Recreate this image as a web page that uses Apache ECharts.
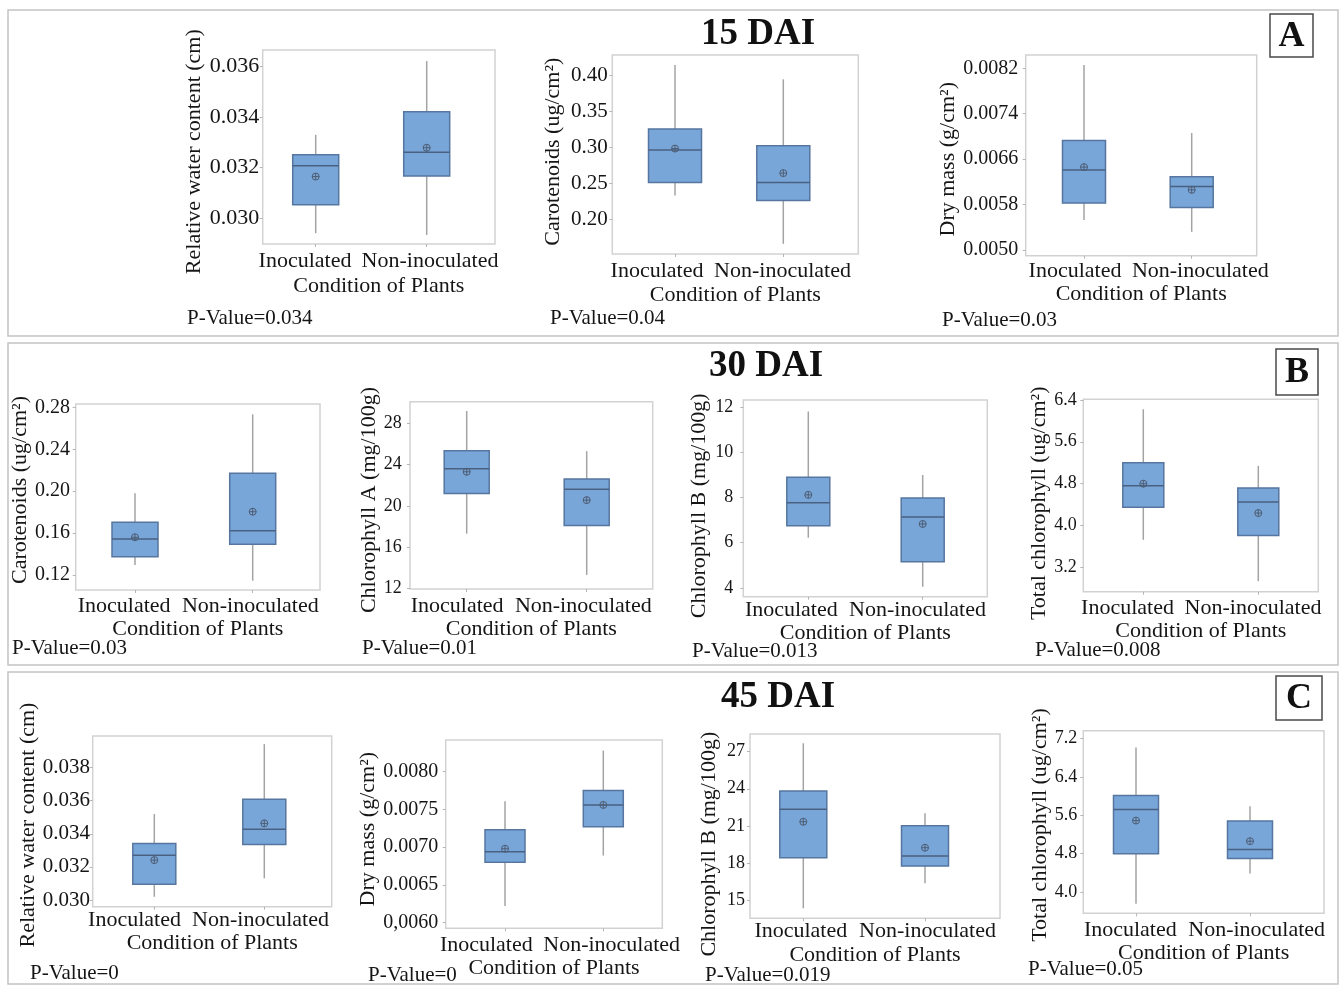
<!DOCTYPE html>
<html><head><meta charset="utf-8">
<script src="https://cdn.jsdelivr.net/npm/echarts@6/dist/echarts.min.js"></script>
<style>html,body{margin:0;padding:0;background:#fff}#c{width:1341px;height:985px}</style>
</head><body><div id="c"></div>
<script>
// ---------------- DATA ----------------
const categories = ['Inoculated', 'Non-inoculated'];
const xAxisTitle = 'Condition of Plants';
const panelTitles = ['15 DAI', '30 DAI', '45 DAI'];
const panelLetters = ['A', 'B', 'C'];
const pValues = ['0.034', '0.04', '0.03', '0.03', '0.01', '0.013', '0.008', '0', '0', '0.019', '0.05'];
const yTitles = [
  'Relative water content (cm)', 'Carotenoids (ug/cm\u00b2)', 'Dry mass (g/cm\u00b2)',
  'Carotenoids (ug/cm\u00b2)', 'Chlorophyll A (mg/100g)', 'Chlorophyll B (mg/100g)', 'Total chlorophyll (ug/cm\u00b2)',
  'Relative water content (cm)', 'Dry mass (g/cm\u00b2)', 'Chlorophyll B (mg/100g)', 'Total chlorophyll (ug/cm\u00b2)'
];
// each: [min, Q1, median, Q3, max, mean]
const rwc15Inoc = [0.02941, 0.03053, 0.03208, 0.03251, 0.03330, 0.03165];
const rwc15Non  = [0.02934, 0.03167, 0.03261, 0.03422, 0.03622, 0.03279];
const car15Inoc = [0.233, 0.251, 0.296, 0.325, 0.414, 0.298];
const car15Non  = [0.166, 0.226, 0.251, 0.302, 0.394, 0.264];
const dm15Inoc  = [0.00553, 0.00583, 0.00641, 0.00693, 0.00826, 0.00646];
const dm15Non   = [0.00532, 0.00575, 0.00612, 0.00629, 0.00706, 0.00606];
const car30Inoc = [0.1295, 0.1375, 0.1543, 0.1703, 0.1980, 0.1560];
const car30Non  = [0.1146, 0.1493, 0.1623, 0.2170, 0.2733, 0.1804];
const chlA30Inoc = [17.3, 21.2, 23.6, 25.35, 29.2, 23.3];
const chlA30Non  = [13.3, 18.1, 21.6, 22.6, 25.3, 20.55];
const chlB30Inoc = [6.22, 6.75, 7.77, 8.90, 11.81, 8.12];
const chlB30Non  = [4.05, 5.16, 7.14, 7.98, 9.00, 6.83];
const tc30Inoc = [3.73, 4.35, 4.76, 5.20, 6.22, 4.80];
const tc30Non  = [2.94, 3.81, 4.45, 4.72, 5.14, 4.24];
const rwc45Inoc = [0.03020, 0.03095, 0.03271, 0.03342, 0.03519, 0.03241];
const rwc45Non  = [0.03131, 0.03336, 0.03428, 0.03608, 0.03941, 0.03463];
const dm45Inoc  = [0.00622, 0.00680, 0.00694, 0.00723, 0.00761, 0.00698];
const dm45Non   = [0.00689, 0.00727, 0.00756, 0.00775, 0.00828, 0.00756];
const chlB45Inoc = [14.33, 18.42, 22.34, 23.82, 27.68, 21.33];
const chlB45Non  = [16.35, 17.75, 18.56, 21.01, 22.01, 19.23];
const tc45Inoc = [3.76, 4.80, 5.72, 6.01, 7.01, 5.49];
const tc45Non  = [4.39, 4.70, 4.89, 5.48, 5.79, 5.06];

const rwc15Ticks = [0.030, 0.032, 0.034, 0.036];
const rwc15TickText = ['0.030', '0.032', '0.034', '0.036'];
const car15Ticks = [0.20, 0.25, 0.30, 0.35, 0.40];
const car15TickText = ['0.20', '0.25', '0.30', '0.35', '0.40'];
const dm15Ticks = [0.0050, 0.0058, 0.0066, 0.0074, 0.0082];
const dm15TickText = ['0.0050', '0.0058', '0.0066', '0.0074', '0.0082'];
const car30Ticks = [0.12, 0.16, 0.20, 0.24, 0.28];
const car30TickText = ['0.12', '0.16', '0.20', '0.24', '0.28'];
const chlA30Ticks = [12, 16, 20, 24, 28];
const chlA30TickText = ['12', '16', '20', '24', '28'];
const chlB30Ticks = [4, 6, 8, 10, 12];
const chlB30TickText = ['4', '6', '8', '10', '12'];
const tc30Ticks = [3.2, 4.0, 4.8, 5.6, 6.4];
const tc30TickText = ['3.2', '4.0', '4.8', '5.6', '6.4'];
const rwc45Ticks = [0.030, 0.032, 0.034, 0.036, 0.038];
const rwc45TickText = ['0.030', '0.032', '0.034', '0.036', '0.038'];
const dm45Ticks = [0.0060, 0.0065, 0.0070, 0.0075, 0.0080];
const dm45TickText = ['0,0060', '0.0065', '0.0070', '0.0075', '0.0080'];
const chlB45Ticks = [15, 18, 21, 24, 27];
const chlB45TickText = ['15', '18', '21', '24', '27'];
const tc45Ticks = [4.0, 4.8, 5.6, 6.4, 7.2];
const tc45TickText = ['4.0', '4.8', '5.6', '6.4', '7.2'];

const plotData = [
  [rwc15Inoc, rwc15Non, rwc15Ticks, rwc15TickText],
  [car15Inoc, car15Non, car15Ticks, car15TickText],
  [dm15Inoc, dm15Non, dm15Ticks, dm15TickText],
  [car30Inoc, car30Non, car30Ticks, car30TickText],
  [chlA30Inoc, chlA30Non, chlA30Ticks, chlA30TickText],
  [chlB30Inoc, chlB30Non, chlB30Ticks, chlB30TickText],
  [tc30Inoc, tc30Non, tc30Ticks, tc30TickText],
  [rwc45Inoc, rwc45Non, rwc45Ticks, rwc45TickText],
  [dm45Inoc, dm45Non, dm45Ticks, dm45TickText],
  [chlB45Inoc, chlB45Non, chlB45Ticks, chlB45TickText],
  [tc45Inoc, tc45Non, tc45Ticks, tc45TickText]
];

// ---------------- LAYOUT (px) ----------------
const layout = [
  {L:262.7,T:50,R:495,B:244,c1:315.7,c2:426.7,lx1:305,lx2:430,yMin:0.02898,yMax:0.03666,bw:46,fs:22,lg:3.5,ng:57,ns:4.7,xl:17.7,xn:42.7},
  {L:612.3,T:55,R:858.3,B:254,c1:675,c2:783.3,lx1:657,lx2:782.5,yMin:0.1519,yMax:0.4277,bw:53,fs:21,lg:4.6,ng:48,ns:-2.8,xl:17.7,xn:41},
  {L:1025.7,T:55,R:1256.7,B:255.7,c1:1084,c2:1191.7,lx1:1075,lx2:1200.3,yMin:0.0049,yMax:0.008434,bw:43,fs:20,lg:7.4,ng:66,ns:3.9,xl:16,xn:37},
  {L:75.7,T:404,R:320,B:590,c1:135,c2:252.7,lx1:124.2,lx2:250.3,yMin:0.1057,yMax:0.2832,bw:46,fs:20,lg:5.7,ng:38,ns:-7,xl:16.7,xn:38.3},
  {L:410,T:401.7,R:652.7,B:589,c1:466.7,c2:586.7,lx1:457.2,lx2:583.3,yMin:11.93,yMax:30.1,bw:45,fs:18,lg:8.3,ng:28,ns:4.7,xl:17.7,xn:39.3},
  {L:743.3,T:400,R:987.3,B:596.7,c1:808.3,c2:922.7,lx1:791.3,lx2:917.5,yMin:3.61,yMax:12.32,bw:43,fs:18,lg:10,ng:33,ns:7.5,xl:13.3,xn:36.6},
  {L:1083.3,T:399.3,R:1318.3,B:591.7,c1:1143.3,c2:1258.3,lx1:1127.5,lx2:1253,yMin:2.74,yMax:6.41,bw:41,fs:18,lg:6.6,ng:32,ns:7.8,xl:16.6,xn:38.3},
  {L:92.7,T:736,R:331.7,B:906.7,c1:154.3,c2:264.3,lx1:134.5,lx2:260.5,yMin:0.0296,yMax:0.0399,bw:43,fs:21,lg:2.7,ng:52,ns:3.7,xl:13.3,xn:36.6},
  {L:445.7,T:740,R:662.3,B:928.3,c1:505,c2:603.3,lx1:486.3,lx2:611.7,yMin:0.005926,yMax:0.00842,bw:40,fs:20,lg:7.4,ng:63,ns:-5,xl:16.7,xn:38.4},
  {L:750,T:734,R:1000,B:918.3,c1:803.3,c2:925,lx1:800.8,lx2:927.5,yMin:13.52,yMax:28.43,bw:47,fs:18,lg:5,ng:30,ns:18,xl:13.4,xn:36.7},
  {L:1083.3,T:730.7,R:1324,B:913.3,c1:1136,c2:1250,lx1:1130.3,lx2:1256.7,yMin:3.56,yMax:7.36,bw:45,fs:18,lg:6,ng:30,ns:3,xl:16.7,xn:36}
];
const pPos = [[187,318],[550,318],[942,320],[12,648],[362,648],[692,651],[1035,650],[30,973],[368,975],[705,975],[1028,969]];
const titlePos = [[758,34],[766,366],[778,697]];
const frames = [[8,10,1330,326],[8,343,1330,322],[8,672,1330,312]];
const letterBoxes = [[1270,14,43,43],[1276,349,42,46],[1276,676,46,44]];

// ---------------- STYLE ----------------
const F = "'Liberation Serif', 'Times New Roman', serif";
const TXT = '#151515';
const BOX = '#79a6d8', BOXLINE = '#56769f', MED = '#4a6080', WHISK = '#a3a3a3', MEAN = '#4d5d74';

const grids = [], xAxes = [], yAxes = [], series = [];
plotData.forEach(function (pd, i) {
  const g = layout[i];
  const unit = g.c2 - g.c1;
  const xMin = 1 - (g.c1 - g.L) / unit;
  const xMax = 2 + (g.R - g.c2) / unit;
  const lv1 = 1 + (g.lx1 - g.c1) / unit;
  const lv2 = 2 + (g.lx2 - g.c2) / unit;
  const ticks = pd[2], tickText = pd[3];
  grids.push({left: g.L, top: g.T, width: g.R - g.L, height: g.B - g.T, show: true,
    borderColor: '#d2d2d2', borderWidth: 1.5, backgroundColor: '#fff', containLabel: false});
  xAxes.push({
    gridIndex: i, type: 'value', min: xMin, max: xMax,
    axisLine: {show: false}, splitLine: {show: false},
    axisTick: {show: true, customValues: [1, 2], length: 3, lineStyle: {color: '#b5b5b5'}},
    axisLabel: {customValues: [lv1, lv2], formatter: function (v) { return v < 1.5 ? categories[0] : categories[1]; },
      margin: g.xl - 11, fontSize: 22, fontFamily: F, color: TXT},
    name: xAxisTitle, nameLocation: 'middle', nameGap: g.xn - 11,
    nameTextStyle: {fontSize: 22, fontFamily: F, color: TXT}
  });
  const pad = g.ns >= 0 ? [0, 2 * g.ns, 0, 0] : [0, 0, 0, -2 * g.ns];
  yAxes.push({
    gridIndex: i, type: 'value', min: g.yMin, max: g.yMax,
    axisLine: {show: false}, splitLine: {show: false},
    axisTick: {show: true, customValues: ticks, length: 3, lineStyle: {color: '#b5b5b5'}},
    axisLabel: {customValues: ticks, formatter: function (v) {
        for (let j = 0; j < ticks.length; j++) {
          if (Math.abs(ticks[j] - v) <= 1e-6 * Math.abs(ticks[j]) + 1e-12) return tickText[j];
        }
        return '';
      }, margin: g.lg, fontSize: g.fs, fontFamily: F, color: TXT},
    name: yTitles[i], nameLocation: 'middle', nameGap: g.ng, nameRotate: 90,
    nameTextStyle: {fontSize: 22, fontFamily: F, color: TXT, padding: pad}
  });
  const bw = g.bw;
  series.push({
    type: 'custom', xAxisIndex: i, yAxisIndex: i, silent: true, z: 3,
    data: [[1].concat(pd[0]), [2].concat(pd[1])],
    encode: {x: 0, y: [1, 2, 3, 4, 5, 6]},
    renderItem: function (params, api) {
      const x = api.value(0);
      const p = function (k) { return api.coord([x, api.value(k)]); };
      const pMin = p(1), pQ1 = p(2), pMed = p(3), pQ3 = p(4), pMax = p(5), pMean = p(6);
      const cx = pMin[0];
      const r = 3.5;
      return {type: 'group', children: [
        {type: 'line', shape: {x1: cx, y1: pMax[1], x2: cx, y2: pQ3[1]}, style: {stroke: WHISK, lineWidth: 1.5}},
        {type: 'line', shape: {x1: cx, y1: pQ1[1], x2: cx, y2: pMin[1]}, style: {stroke: WHISK, lineWidth: 1.5}},
        {type: 'rect', shape: {x: cx - bw / 2, y: pQ3[1], width: bw, height: pQ1[1] - pQ3[1]},
          style: {fill: BOX, stroke: BOXLINE, lineWidth: 1.5}},
        {type: 'line', shape: {x1: cx - bw / 2, y1: pMed[1], x2: cx + bw / 2, y2: pMed[1]}, style: {stroke: MED, lineWidth: 1.5}},
        {type: 'circle', shape: {cx: cx, cy: pMean[1], r: r}, style: {fill: 'none', stroke: MEAN, lineWidth: 1}},
        {type: 'line', shape: {x1: cx - r, y1: pMean[1], x2: cx + r, y2: pMean[1]}, style: {stroke: MEAN, lineWidth: 1}},
        {type: 'line', shape: {x1: cx, y1: pMean[1] - r, x2: cx, y2: pMean[1] + r}, style: {stroke: MEAN, lineWidth: 1}}
      ]};
    }
  });
});

const graphics = [];
frames.forEach(function (f) {
  graphics.push({type: 'rect', shape: {x: f[0], y: f[1], width: f[2], height: f[3]}, z: -10,
    style: {fill: 'none', stroke: '#c4c4c4', lineWidth: 1.5}, silent: true});
});
letterBoxes.forEach(function (b, k) {
  graphics.push({type: 'rect', shape: {x: b[0], y: b[1], width: b[2], height: b[3]}, z: 10,
    style: {fill: '#fff', stroke: '#4a4a4a', lineWidth: 1.5}, silent: true});
  graphics.push({type: 'text', x: b[0] + b[2] / 2, y: b[1] + b[3] / 2 + 1, z: 11,
    style: {text: panelLetters[k], font: 'bold 36px ' + F, fill: '#111', textAlign: 'center', textVerticalAlign: 'middle'}, silent: true});
});
titlePos.forEach(function (t, k) {
  graphics.push({type: 'text', x: t[0], y: t[1], z: 10,
    style: {text: panelTitles[k], font: 'bold 37px ' + F, fill: '#111', textAlign: 'center', textVerticalAlign: 'middle'}, silent: true});
});
pPos.forEach(function (p, k) {
  graphics.push({type: 'text', x: p[0], y: p[1], z: 10,
    style: {text: 'P-Value=' + pValues[k], font: '21px ' + F, fill: TXT, textAlign: 'left', textVerticalAlign: 'middle'}, silent: true});
});

const chart = echarts.init(document.getElementById('c'));
chart.setOption({
  backgroundColor: '#fff',
  animation: false,
  grid: grids, xAxis: xAxes, yAxis: yAxes, series: series,
  graphic: graphics
});
</script>
</body></html>
